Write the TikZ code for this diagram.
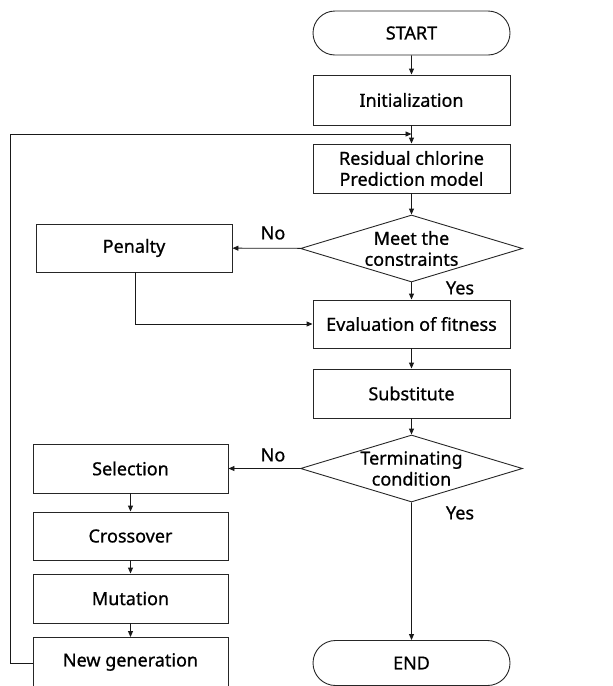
\documentclass[tikz,border=0pt]{standalone}
\usepackage{fontspec}
\setmainfont[FakeBold=0.8]{Noto Sans}
\usetikzlibrary{arrows.meta,shapes.geometric,shapes.misc}
\begin{document}
\begin{tikzpicture}[x=1pt,y=-1pt,
  every node/.style={font=\fontsize{18}{21}\selectfont, text=black},
  box/.style={draw=black!85, line width=0.9pt, rectangle, minimum width=197pt, minimum height=49pt, inner sep=0pt, align=center},
  lbox/.style={box, minimum width=195pt},
  term/.style={draw=black!85, line width=0.9pt, rounded rectangle, minimum width=197pt, minimum height=44pt, inner sep=0pt},
  dec/.style={draw=black!85, line width=0.9pt, diamond, aspect=3.3, minimum width=222pt, minimum height=67pt, inner sep=0pt, align=center},
  lab/.style={inner sep=0pt},
  arr/.style={draw=black!90, line width=0.9pt, -{Triangle[length=6pt,width=5pt]}}
]
\useasboundingbox (0,0) rectangle (613,686);
\node[term] (start) at (411.5,33) {START};
\node[box, minimum height=50pt] (init) at (411.5,100) {Initialization};
\node[box] (resid) at (411.5,168.5) {Residual chlorine\\Prediction model};
\node[dec] (d1) at (411.5,248.5) {Meet the\\constraints};
\node[box, minimum width=196pt, minimum height=48pt] (pen) at (134,248) {Penalty};
\node[box, minimum height=48pt] (eval) at (411.5,324) {Evaluation of fitness};
\node[box] (subs) at (411.5,393.5) {Substitute};
\node[dec] (d2) at (411.5,468.5) {Terminating\\condition};
\node[lbox] (sel) at (130.5,468.5) {Selection};
\node[lbox, minimum height=48pt] (cross) at (130.5,536) {Crossover};
\node[lbox] (mut) at (130.5,598.5) {Mutation};
\node[lbox] (newg) at (130.5,662) {New generation};
\node[term, minimum height=45pt] (endn) at (411.5,663) {END};
\node[lab] (no1) at (273,233) {No};
\node[lab] (yes1) at (460,288) {Yes};
\node[lab] (no2) at (273,455) {No};
\node[lab] (yes2) at (460,513) {Yes};
\coordinate (lp1) at (10,663);
\coordinate (lp2) at (10,134);
\coordinate (lp3) at (411.5,134);
\coordinate (pd) at (135,324);
\draw[arr] (start) -- (init);
\draw[arr] (init) -- (resid);
\draw[arr] (resid) -- (d1);
\draw[arr] (d1) -- (pen);
\draw[arr] (d1) -- (eval);
\draw[arr] (pen.south -| pd) -- (pd) -- (eval);
\draw[arr] (eval) -- (subs);
\draw[arr] (subs) -- (d2);
\draw[arr] (d2) -- (sel);
\draw[arr] (d2) -- (endn);
\draw[arr] (sel) -- (cross);
\draw[arr] (cross) -- (mut);
\draw[arr] (mut) -- (newg);
\draw[arr] (newg.west |- lp1) -- (lp1) -- (lp2) -- (lp3);
\end{tikzpicture}
\end{document}
